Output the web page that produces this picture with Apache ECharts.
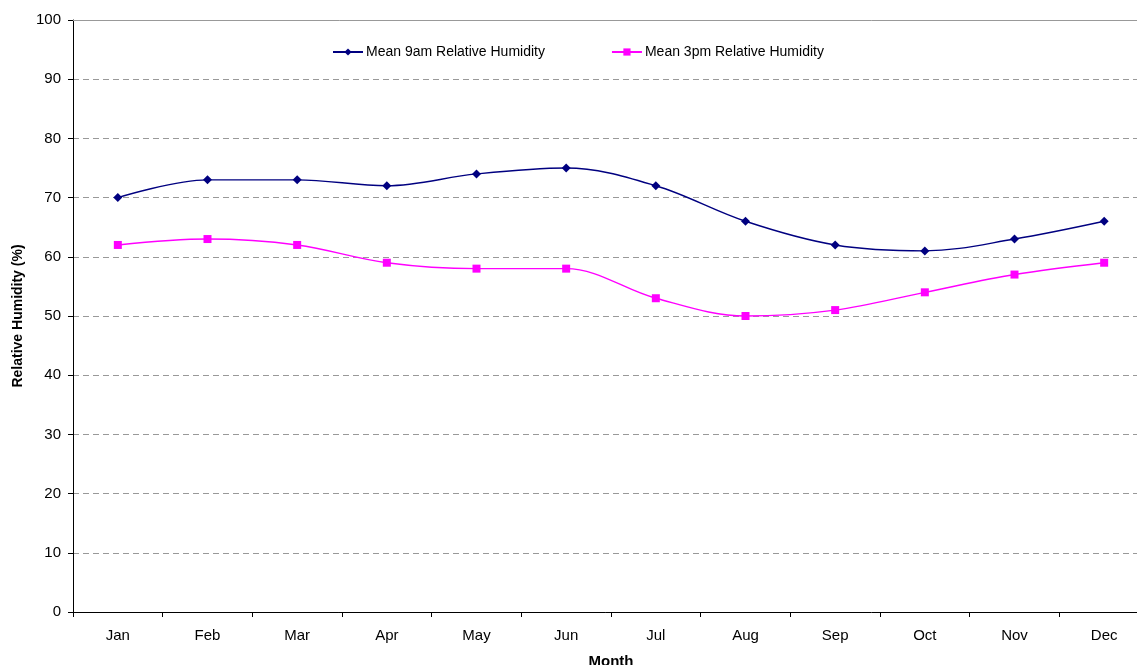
<!DOCTYPE html>
<html>
<head>
<meta charset="utf-8">
<script src="https://cdn.jsdelivr.net/npm/echarts@6/dist/echarts.min.js"></script>
<style>
  html, body { margin: 0; padding: 0; background: #fff; }
  #main { width: 1137px; height: 665px; }
</style>
</head>
<body>
<div id="main"></div>
<script type="text/javascript">
  var months = ['Jan', 'Feb', 'Mar', 'Apr', 'May', 'Jun', 'Jul', 'Aug', 'Sep', 'Oct', 'Nov', 'Dec'];
  var humidity9am = [70, 73, 73, 72, 74, 75, 72, 66, 62, 61, 63, 66];
  var humidity3pm = [62, 63, 62, 59, 58, 58, 53, 50, 51, 54, 57, 59];
  var yTicks = [0, 10, 20, 30, 40, 50, 60, 70, 80, 90, 100];

  var font = 'Liberation Sans, Arial, sans-serif';
  var chart = echarts.init(document.getElementById('main'));
  chart.setOption({
    animation: false,
    textStyle: { fontFamily: font },
    legend: {
      top: 40,
      left: 327,
      itemGap: 66,
      itemWidth: 30,
      itemHeight: 9,
      textStyle: { fontFamily: font, fontSize: 14, color: '#000', padding: [0, 0, 0, -2] },
      data: ['Mean 9am Relative Humidity', 'Mean 3pm Relative Humidity']
    },
    grid: { left: 73, right: -12, top: 20, bottom: 53, outerBoundsMode: 'none', containLabel: false },
    xAxis: {
      type: 'category',
      data: months,
      boundaryGap: true,
      name: 'Month',
      nameLocation: 'middle',
      nameGap: 42,
      nameTextStyle: { fontFamily: font, fontSize: 15, fontWeight: 'bold', color: '#000' },
      axisLine: { lineStyle: { color: '#000', width: 1 } },
      axisTick: { show: true, inside: false, length: 5, lineStyle: { color: '#000' } },
      axisLabel: { fontFamily: font, fontSize: 15, color: '#000', margin: 16 },
      splitLine: { show: false }
    },
    yAxis: {
      type: 'value',
      min: yTicks[0],
      max: yTicks[yTicks.length - 1],
      interval: 10,
      name: 'Relative Humidity (%)',
      nameLocation: 'middle',
      nameGap: 48,
      nameTextStyle: { fontFamily: font, fontSize: 14, fontWeight: 'bold', color: '#000' },
      axisLine: { show: true, lineStyle: { color: '#000', width: 1 } },
      axisTick: { show: true, inside: false, length: 5, lineStyle: { color: '#000' } },
      axisLabel: { fontFamily: font, fontSize: 15, color: '#000', margin: 12 },
      splitLine: { show: true, lineStyle: { color: '#999', type: [6, 4], width: 1 } }
    },
    series: [
      {
        name: 'Mean 9am Relative Humidity',
        type: 'line',
        data: humidity9am,
        smooth: 0.35,
        symbol: 'diamond',
        symbolSize: 9,
        itemStyle: { color: '#000080' },
        lineStyle: { color: '#000080', width: 1.4 }
      },
      {
        name: 'Mean 3pm Relative Humidity',
        type: 'line',
        data: humidity3pm,
        smooth: 0.35,
        symbol: 'rect',
        symbolSize: 8,
        itemStyle: { color: '#ff00ff' },
        lineStyle: { color: '#ff00ff', width: 1.4 }
      },
      {
        type: 'line',
        data: [],
        markLine: {
          silent: true,
          symbol: 'none',
          label: { show: false },
          lineStyle: { color: '#999', type: 'solid', width: 1 },
          data: [{ yAxis: 100 }]
        }
      }
    ]
  });
</script>
</body>
</html>
